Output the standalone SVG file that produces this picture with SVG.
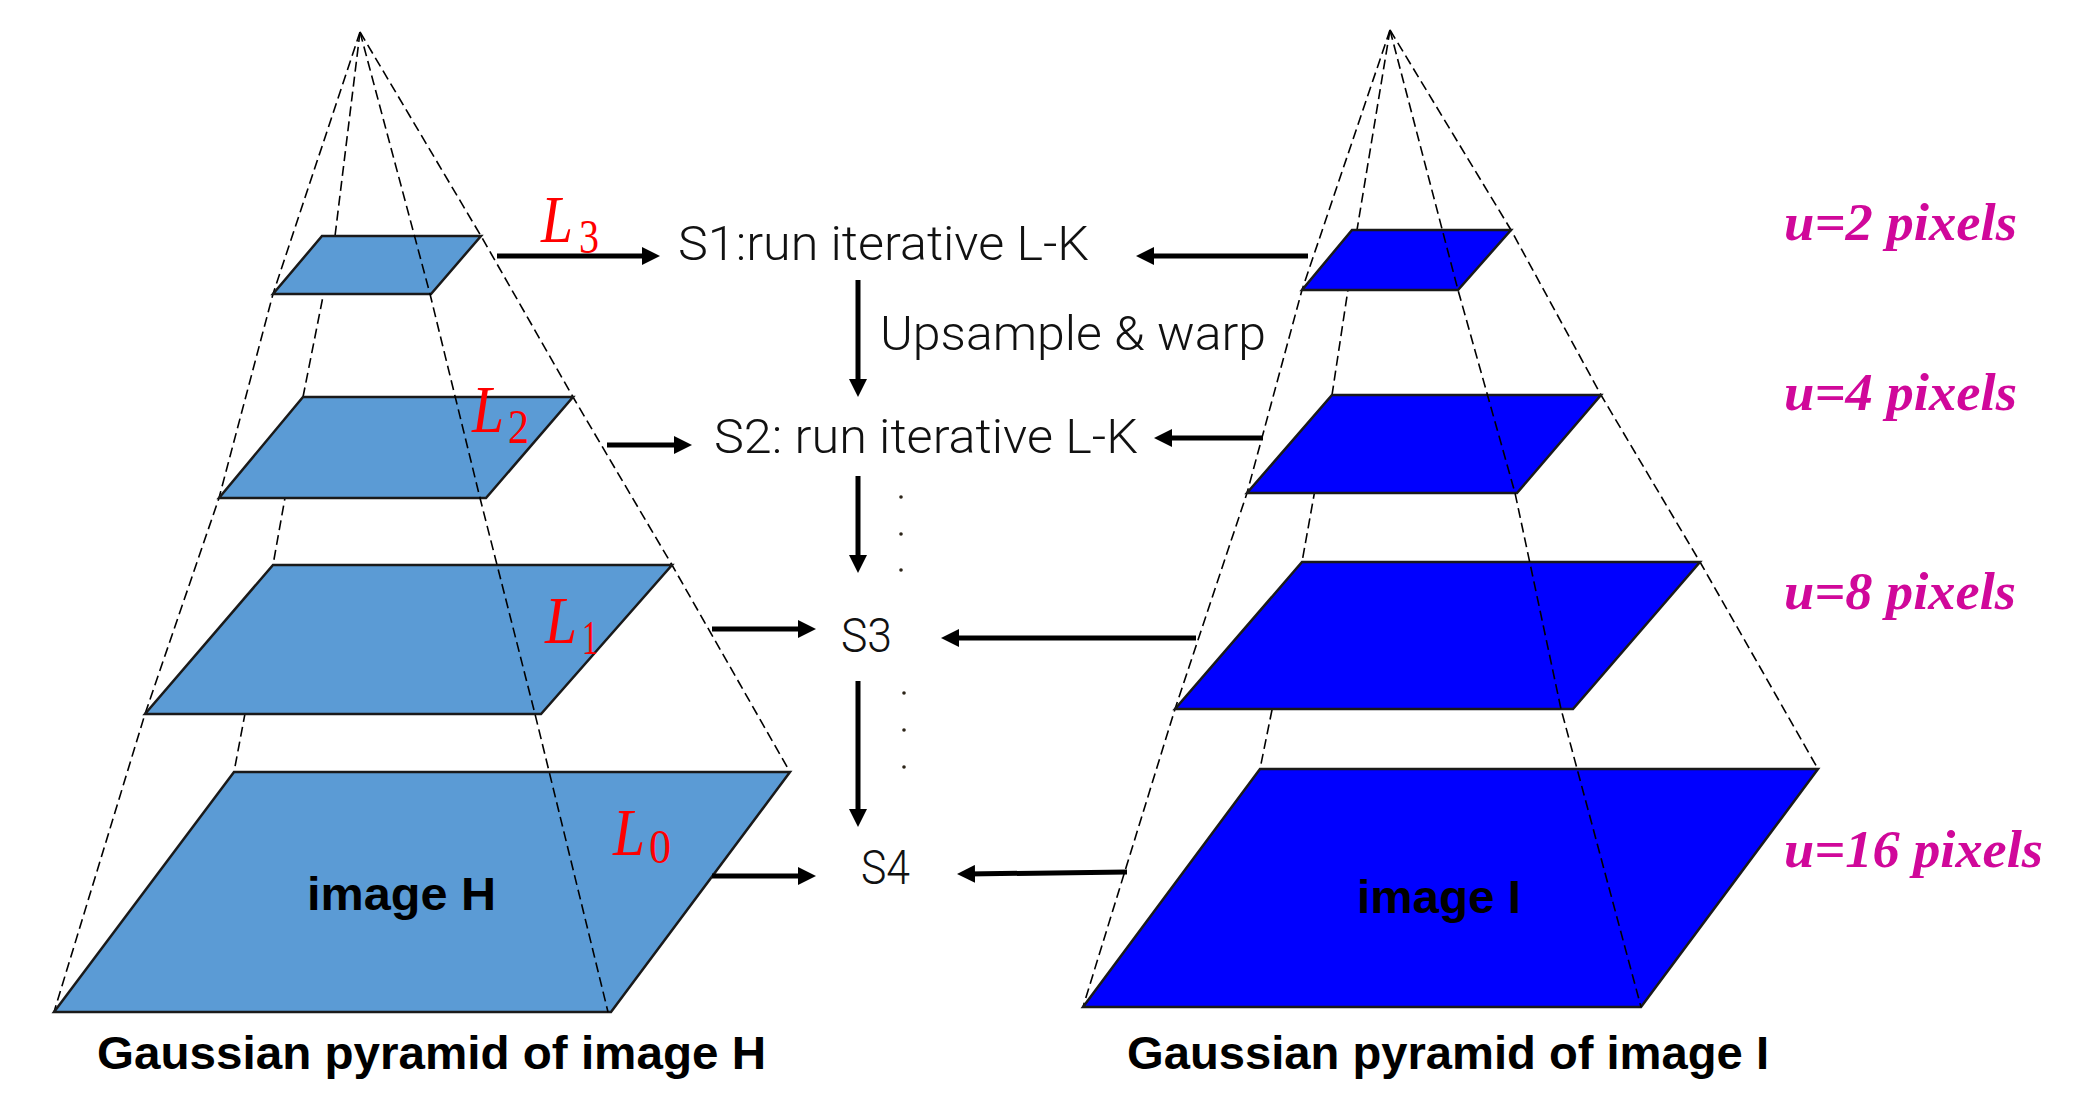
<svg xmlns="http://www.w3.org/2000/svg" width="2075" height="1108" viewBox="0 0 2075 1108">
<style>
.bg{fill:#ffffff}
.layH{fill:#5B9BD5;stroke:#1a1a1a;stroke-width:2.5;stroke-linejoin:miter}
.layI{fill:#0000FF;stroke:#1a1a1a;stroke-width:2.5;stroke-linejoin:miter}
.dash{fill:none;stroke:#000;stroke-width:1.6;stroke-dasharray:10 5}
.arr{stroke:#000;stroke-width:5;fill:none;marker-end:url(#ah)}
.step{font-family:Roboto,"Liberation Sans",sans-serif;font-weight:300;font-size:48px;fill:#111}
.cap{font-family:"Liberation Sans",Arial,sans-serif;font-weight:bold;font-size:46px;fill:#000}
.lv{font-family:"Liberation Serif","Times New Roman",serif;font-style:italic;font-size:68px;fill:#ff0000}
.sub{font-family:"Liberation Serif","Times New Roman",serif;font-size:48px;fill:#ff0000}
.u{font-family:"Liberation Serif","Times New Roman",serif;font-style:italic;font-weight:bold;font-size:52px;fill:#D0089A}
.dot{fill:#2b2418}
</style>
<defs>
<marker id="ah" markerUnits="userSpaceOnUse" markerWidth="18" markerHeight="18" refX="8" refY="9" orient="auto">
<path d="M0,0 L18,9 L0,18 Z" fill="#000"/>
</marker>
</defs>
<rect class="bg" x="0" y="0" width="2075" height="1108"/>

<g id="pyramid-H">
<path class="dash" d="M360,32 L335,236 L303,397 L273,565 L234,772"/>
<path class="dash" d="M360,32 L273,294 L219,498 L145,714 L54,1012"/>
<path class="dash" d="M360,32 L481,236 L573,397 L672,565 L790,772"/>
<g id="H-L3"><polygon class="layH" points="322,236 481,236 431,294 273,294"/></g>
<g id="H-L2"><polygon class="layH" points="303,397 573,397 486,498 219,498"/></g>
<g id="H-L1"><polygon class="layH" points="273,565 672,565 541,714 145,714"/></g>
<g id="H-L0"><polygon class="layH" points="234,772 790,772 611,1012 54,1012"/></g>
<path class="dash" d="M360,32 L430,294 L480,498 L535,714 L608,1012"/>
<text class="cap" x="307" y="910" textLength="189" lengthAdjust="spacingAndGlyphs">image H</text>
<text class="lv" x="541" y="242" textLength="32" lengthAdjust="spacingAndGlyphs">L</text><text class="sub" x="579" y="253" textLength="20" lengthAdjust="spacingAndGlyphs">3</text>
<text class="lv" x="472" y="432" textLength="32" lengthAdjust="spacingAndGlyphs">L</text><text class="sub" x="508" y="443" textLength="21" lengthAdjust="spacingAndGlyphs">2</text>
<text class="lv" x="545" y="643" textLength="32" lengthAdjust="spacingAndGlyphs">L</text><text class="sub" x="582" y="654" textLength="16" lengthAdjust="spacingAndGlyphs">1</text>
<text class="lv" x="613" y="855" textLength="32" lengthAdjust="spacingAndGlyphs">L</text><text class="sub" x="649" y="863" textLength="22" lengthAdjust="spacingAndGlyphs">0</text>
<text class="cap" x="97" y="1069" textLength="669" lengthAdjust="spacingAndGlyphs">Gaussian pyramid of image H</text>
</g>

<g id="pyramid-I">
<path class="dash" d="M1390,30 L1357,230 L1332,395 L1302,562 L1260,769"/>
<path class="dash" d="M1390,30 L1302,290 L1247,493 L1175,709 L1083,1007"/>
<path class="dash" d="M1390,30 L1511,230 L1601,395 L1700,562 L1818,769"/>
<g id="I-L3"><polygon class="layI" points="1352,230 1511,230 1458,290 1302,290"/></g>
<g id="I-L2"><polygon class="layI" points="1332,395 1601,395 1517,493 1247,493"/></g>
<g id="I-L1"><polygon class="layI" points="1302,562 1700,562 1573,709 1175,709"/></g>
<g id="I-L0"><polygon class="layI" points="1260,769 1818,769 1641,1007 1083,1007"/></g>
<path class="dash" d="M1390,30 L1458,290 L1515,493 L1561,709 L1641,1007"/>
<text class="cap" x="1357" y="913" textLength="164" lengthAdjust="spacingAndGlyphs">image I</text>
<text class="cap" x="1127" y="1069" textLength="642" lengthAdjust="spacingAndGlyphs">Gaussian pyramid of image I</text>
</g>

<g id="steps">
<g id="S1"><text class="step" x="678" y="260" textLength="411" lengthAdjust="spacingAndGlyphs">S1:run iterative L-K</text></g>
<g id="S2"><text class="step" x="714" y="453" textLength="424" lengthAdjust="spacingAndGlyphs">S2: run iterative L-K</text></g>
<g id="S3"><text class="step" x="841" y="652" textLength="51" lengthAdjust="spacingAndGlyphs">S3</text></g>
<g id="S4"><text class="step" x="861" y="884" textLength="49" lengthAdjust="spacingAndGlyphs">S4</text></g>
</g>

<g id="scales">
<text class="u" x="1784" y="240" textLength="233" lengthAdjust="spacingAndGlyphs">u=2 pixels</text>
<text class="u" x="1784" y="410" textLength="233" lengthAdjust="spacingAndGlyphs">u=4 pixels</text>
<text class="u" x="1784" y="609" textLength="232" lengthAdjust="spacingAndGlyphs">u=8 pixels</text>
<text class="u" x="1784" y="867" textLength="259" lengthAdjust="spacingAndGlyphs">u=16 pixels</text>
</g>

<g id="connectors">
<line class="arr" x1="497" y1="256" x2="650" y2="256"/>
<line class="arr" x1="607" y1="445" x2="682" y2="445"/>
<line class="arr" x1="712" y1="629" x2="806" y2="629"/>
<line class="arr" x1="712" y1="876" x2="806" y2="876"/>
<line class="arr" x1="1308" y1="256" x2="1146" y2="256"/>
<line class="arr" x1="1263" y1="438" x2="1164" y2="438"/>
<line class="arr" x1="1196" y1="638" x2="951" y2="638"/>
<line class="arr" x1="1127" y1="872" x2="967" y2="874"/>
<line class="arr" x1="858" y1="280" x2="858" y2="387"/>
<line class="arr" x1="858" y1="476" x2="858" y2="563"/>
<line class="arr" x1="858" y1="681" x2="858" y2="817"/>
<text class="step" x="880" y="350" textLength="386" lengthAdjust="spacingAndGlyphs">Upsample &amp; warp</text>
<circle class="dot" cx="901" cy="497" r="1.8"/>
<circle class="dot" cx="901" cy="534" r="1.8"/>
<circle class="dot" cx="901" cy="570" r="1.8"/>
<circle class="dot" cx="904" cy="693" r="1.8"/>
<circle class="dot" cx="904" cy="730" r="1.8"/>
<circle class="dot" cx="904" cy="767" r="1.8"/>
</g>
</svg>
